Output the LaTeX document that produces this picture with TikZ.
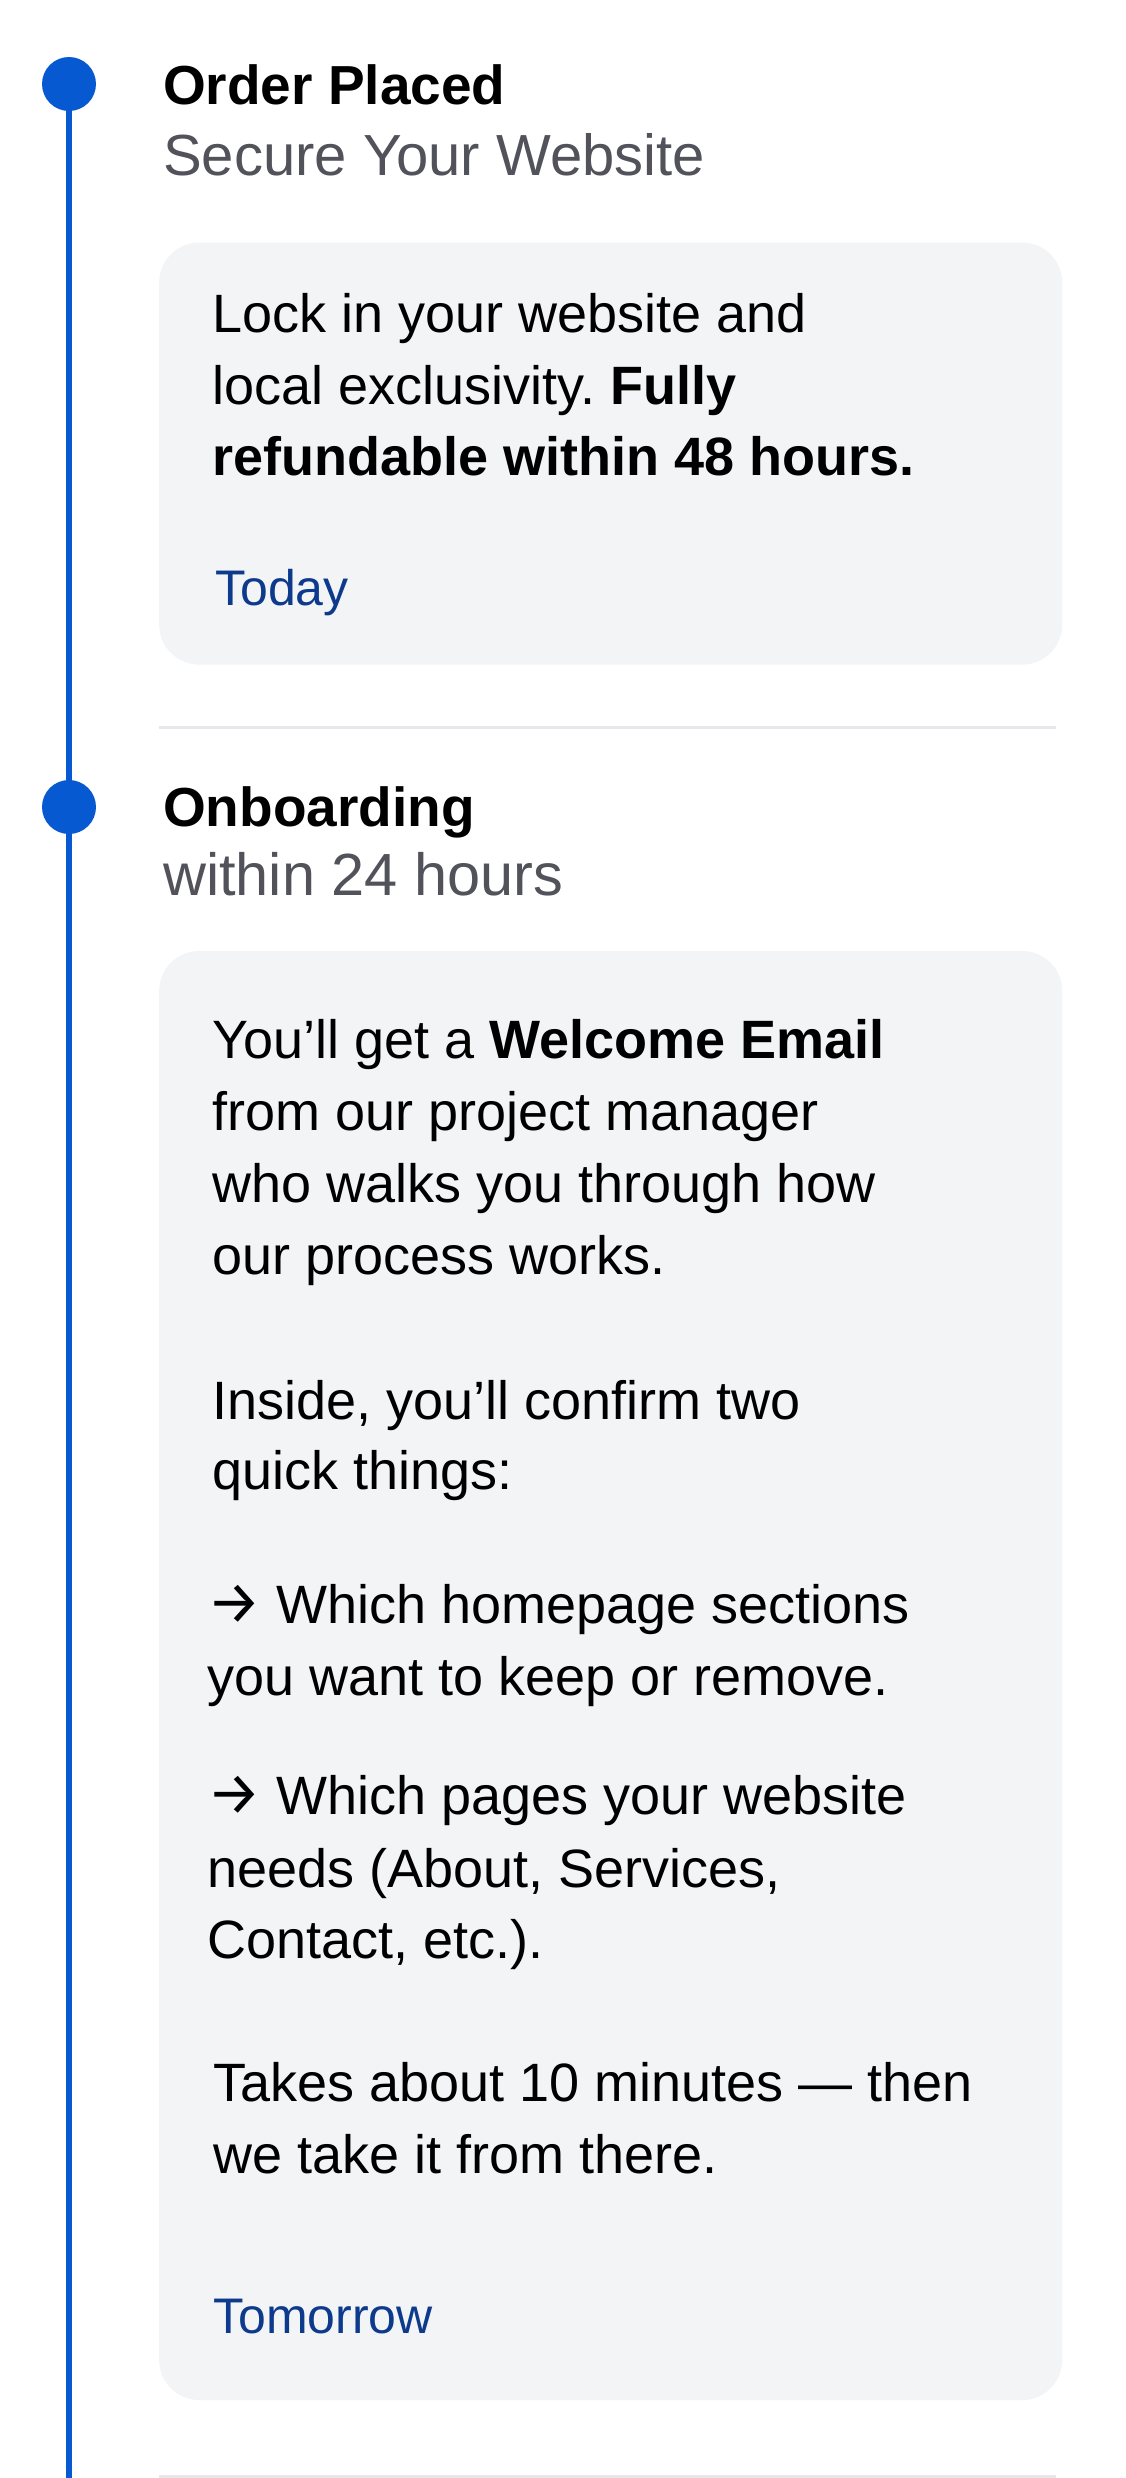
\documentclass[tikz,border=0pt]{standalone}
\usepackage{fontspec}
\setmainfont{Liberation Sans}
\newfontfamily\arrowfont{Fira Sans}
\definecolor{tlblue}{HTML}{0759D2}
\definecolor{subgray}{HTML}{52525B}
\definecolor{datebl}{HTML}{0D3A8C}
\definecolor{cardbg}{HTML}{F3F4F6}
\definecolor{divgray}{HTML}{E5E7EB}
\pgfdeclarelayer{bg}
\pgfsetlayers{bg,main}
\newcommand{\rarr}{{\arrowfont\fontsize{60}{72}\selectfont →}}
\begin{document}
\frenchspacing
\begin{tikzpicture}[x=1pt,y=-1pt,
  title/.style={anchor=base west, inner sep=0pt, font=\fontsize{55}{66}\selectfont\bfseries, text=black},
  sub/.style={anchor=base west, inner sep=0pt, font=\fontsize{58}{70}\selectfont, text=subgray},
  body/.style={anchor=base west, inner sep=0pt, font=\fontsize{54}{72}\selectfont\frenchspacing, text=black},
  datelbl/.style={anchor=base west, inner sep=0pt, font=\fontsize{50}{72}\selectfont, text=datebl},
  card/.style={fill=cardbg, rounded corners=40pt, draw=none, anchor=north west, inner sep=0pt},
  divider/.style={draw=divgray, line width=3pt},
  dot/.style={circle, fill=tlblue, minimum size=54pt, inner sep=0pt, draw=none},
  rail/.style={draw=tlblue, line width=6pt}]
\useasboundingbox (0,0) rectangle (1125,2478);

% timeline dots
\node[dot] (d1) at (69,84) {};
\node[dot] (d2) at (69,807) {};
\coordinate (railend) at (69,2478);
\begin{pgfonlayer}{bg}
\fill[white] (0,0) rectangle (1125,2478);
\draw[rail] (d1.center) -- (d2.center) -- (railend);
\end{pgfonlayer}

% step 1
\node[title] (t1) at (163,104.7) {Order Placed};
\node[sub] (s1) at (163,175.8) {Secure Your Website};
\node[card, minimum width=903pt, minimum height=422pt] (card1) at (159,242.4) {};
\node[body] (b1a) at (212,332.9) {Lock in your website and};
\node[body] (b1b) at (212,404.1) {local exclusivity. \textbf{Fully}};
\node[body] (b1c) at (212,475.3) {\textbf{refundable within 48 hours.}};
\node[datelbl] (date1) at (215,605) {Today};

\coordinate (dv1a) at (159,727);
\coordinate (dv1b) at (1056,727);
\draw[divider] (dv1a) -- (dv1b);

% step 2
\node[title] (t2) at (163,826) {Onboarding};
\node[sub, font=\fontsize{59.5}{70}\selectfont] (s2) at (163,895) {within 24 hours};
\node[card, minimum width=903pt, minimum height=1449pt] (card2) at (159,950.8) {};
\node[body] (b2a) at (212,1058.7) {You’ll get a \textbf{Welcome Email}};
\node[body] (b2b) at (212,1130.5) {from our project manager};
\node[body] (b2c) at (212,1202.3) {who walks you through how};
\node[body] (b2d) at (212,1274.1) {our process works.};
\node[body] (b2e) at (212,1419.2) {Inside, you’ll confirm two};
\node[body] (b2f) at (212,1489.5) {quick things:};
\node[body] (b2g) at (207,1623.4) {\rarr\ Which homepage sections};
\node[body] (b2h) at (207,1695.2) {you want to keep or remove.};
\node[body] (b2i) at (207,1814.4) {\rarr\ Which pages your website};
\node[body] (b2j) at (207,1887.2) {needs (About, Services,};
\node[body] (b2k) at (207,1958.6) {Contact, etc.).};
\node[body] (b2l) at (213,2101.1) {Takes about 10 minutes — then};
\node[body] (b2m) at (213,2173.9) {we take it from there.};
\node[datelbl] (date2) at (213,2333.5) {Tomorrow};

\coordinate (dv2a) at (159,2476.5);
\coordinate (dv2b) at (1056,2476.5);
\draw[divider] (dv2a) -- (dv2b);
\end{tikzpicture}
\end{document}
